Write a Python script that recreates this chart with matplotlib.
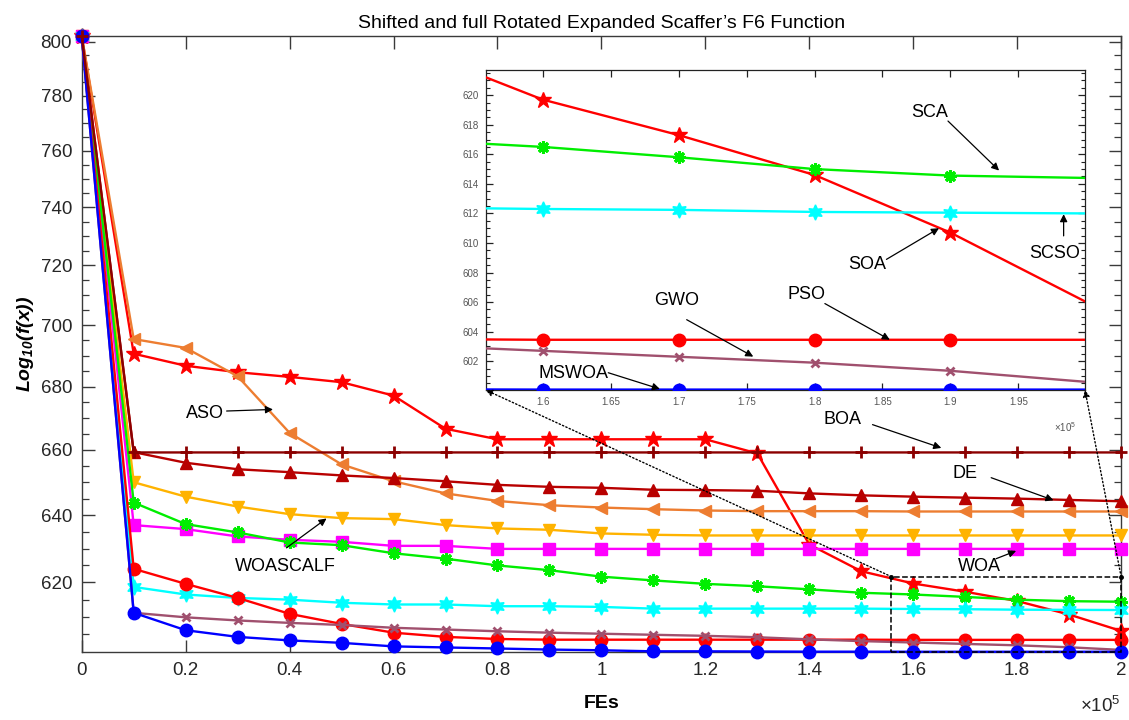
import numpy as np
import matplotlib
matplotlib.use("Agg")
import matplotlib.pyplot as plt  # noqa: E402
from matplotlib.patches import Rectangle, ConnectionPatch  # noqa: E402
from matplotlib.ticker import FixedLocator, FuncFormatter, NullFormatter  # noqa: E402

plt.rcParams["font.family"] = ["Liberation Sans", "DejaVu Sans"]
plt.rcParams["mathtext.fontset"] = "custom"
plt.rcParams["mathtext.rm"] = "Liberation Sans"
plt.rcParams["mathtext.it"] = "Liberation Sans:italic"
plt.rcParams["mathtext.bf"] = "Liberation Sans:bold"
plt.rcParams["mathtext.bfit"] = "Liberation Sans:italic:bold"

# ---- data ----
FES = [0, 10000, 20000, 30000, 40000, 50000, 60000, 70000, 80000, 90000, 100000,
       110000, 120000, 130000, 140000, 150000, 160000, 170000, 180000, 190000, 200000]

SOA = [802.2, 690.6, 686.7, 684.6, 683.1, 681.4, 677.1, 666.6, 663.3, 663.3, 663.3,
       663.3, 663.3, 658.9, 631.2, 623.3, 619.7, 617.3, 614.6, 610.7, 606.0]
ASO = [802.2, 695.4, 692.5, 683.3, 665.3, 655.5, 650.3, 646.6, 644.3, 643.0, 642.3,
       641.8, 641.4, 641.2, 641.2, 641.2, 641.1, 641.1, 641.1, 641.1, 641.1]
BOA = [802.2, 659.2, 659.2, 659.2, 659.2, 659.2, 659.2, 659.2, 659.2, 659.2, 659.2,
       659.2, 659.2, 659.2, 659.2, 659.2, 659.2, 659.2, 659.2, 659.2, 659.2]
DE = [802.2, 659.3, 656.0, 654.0, 653.1, 652.1, 651.3, 650.3, 649.2, 648.6, 648.3,
      647.7, 647.6, 647.4, 646.6, 646.0, 645.6, 645.3, 645.0, 644.6, 644.2]
WOASCALF = [802.2, 650.0, 645.6, 642.6, 640.3, 639.1, 638.8, 637.0, 636.0, 635.6, 634.5,
            634.1, 633.9, 633.9, 633.9, 633.9, 633.9, 633.9, 633.9, 633.9, 633.9]
WOA = [802.2, 637.0, 635.8, 633.6, 632.6, 632.0, 630.8, 630.8, 629.9, 629.9, 629.9,
       629.9, 629.9, 629.9, 629.9, 629.9, 629.9, 629.9, 629.9, 629.9, 629.9]
SCA = [802.2, 643.8, 637.3, 634.8, 631.8, 631.0, 628.6, 627.0, 625.0, 623.6, 621.7,
       620.6, 619.6, 618.9, 618.0, 617.0, 616.5, 615.8, 615.0, 614.56, 614.4]
SCSO = [802.2, 618.7, 616.5, 615.5, 615.0, 614.1, 613.6, 613.6, 613.1, 613.1, 612.9,
        612.4, 612.4, 612.4, 612.4, 612.4, 612.3, 612.24, 612.1, 612.05, 612.0]
PSO = [802.2, 624.0, 619.6, 615.5, 610.9, 608.0, 605.5, 604.3, 603.7, 603.5, 603.5,
       603.5, 603.5, 603.5, 603.5, 603.5, 603.45, 603.45, 603.45, 603.45, 603.45]
GWO = [802.2, 611.2, 609.9, 609.0, 608.3, 607.7, 606.9, 606.4, 605.9, 605.5, 605.2,
       604.9, 604.6, 604.2, 603.6, 603.1, 602.7, 602.3, 601.9, 601.35, 600.6]
MSWOA = [802.2, 611.2, 606.2, 604.3, 603.3, 602.6, 601.6, 601.3, 601.0, 600.7, 600.5,
         600.2, 600.2, 600.15, 600.1, 600.1, 600.08, 600.08, 600.08, 600.08, 600.08]

# name, values, colour, marker, size, edge width, zorder
SERIES = [
    ("SOA", SOA, "#ff0000", "*", 12, 1.0, 3),
    ("ASO", ASO, "#ed7d31", "<", 9, 1.0, 3),
    ("DE", DE, "#b80000", "^", 9, 1.0, 3),
    ("WOASCALF", WOASCALF, "#ffb300", "v", 9, 1.0, 3),
    ("WOA", WOA, "#ff00ff", "s", 8, 1.0, 3),
    ("SCA", SCA, "#00ee00", (8, 2, 0), 9, 2.2, 3),
    ("SCSO", SCSO, "#00ffff", (6, 1, 0), 11, 1.0, 3),
    ("PSO", PSO, "#ff0000", "o", 9, 1.0, 3),
    ("GWO", GWO, "#a0506e", "x", 6, 2.0, 3),
    ("MSWOA", MSWOA, "#0000ff", "o", 9, 1.0, 4),
    ("BOA", BOA, "#8b0000", "+", 9, 2.0, 5),
]

# zoomed window (x in FEs, y in objective value)
ZOOM_X = (155800, 199900)
ZOOM_Y = (600.05, 621.7)

# annotations: label, text centre, arrow tail, arrow head
NOTES_MAIN = [
    ("ASO", (23700, 671.4), (27880, 672.2), (36800, 672.7)),
    ("WOASCALF", (39100, 624.7), (39400, 630.2), (47100, 639.0)),
    ("BOA", (146400, 669.5), (152170, 667.9), (165400, 660.6)),
    ("DE", (169900, 652.7), (175000, 651.4), (187000, 644.5)),
    ("WOA", (172800, 624.7), (175960, 627.0), (179800, 629.3)),
]
NOTES_INSET = [
    ("SCA", (188480, 618.84), (189820, 618.25), (193580, 614.9)),
    ("SOA", (183850, 608.57), (185290, 608.89), (189160, 611.0)),
    ("SCSO", (197670, 609.3), (198330, 610.48), (198330, 611.95)),
    ("PSO", (179430, 606.53), (180760, 605.9), (185540, 603.45)),
    ("GWO", (169880, 606.12), (170590, 604.81), (175490, 602.31)),
    ("MSWOA", (162230, 601.16), (164820, 601.22), (168620, 600.12)),
]

AX_COLOR = "#3a3a3a"


def note(ax, label, txt, tail, head, size):
    ax.text(*txt, label, ha="center", va="center", fontsize=size, color="black",
            zorder=8)
    ax.annotate("", xy=head, xytext=tail,
                arrowprops=dict(arrowstyle="-|>", color="black", lw=0.9,
                                mutation_scale=11, shrinkA=0, shrinkB=0),
                zorder=8)


fig = plt.figure(figsize=(11.29, 7.2), dpi=100)
ax = fig.add_axes([0.0724, 0.0944, 0.9206, 0.8556])

for name, vals, col, mk, ms, mew, zo in SERIES:
    ax.plot(FES, vals, color=col, lw=1.7, marker=mk, ms=ms, mfc=col, mec=col,
            mew=mew, zorder=zo, clip_on=False)

ax.set_yscale("log")
ax.set_xlim(0, 200000)
ax.set_ylim(600.0, 802.2)
ax.yaxis.set_major_locator(FixedLocator(np.arange(620, 801, 20)))
ax.yaxis.set_minor_locator(FixedLocator(np.arange(605, 801, 5)))
ax.yaxis.set_major_formatter(FuncFormatter(lambda v, _: f"{v:.0f}"))
ax.yaxis.set_minor_formatter(NullFormatter())
ax.xaxis.set_major_locator(FixedLocator(np.arange(0, 200001, 20000)))
ax.xaxis.set_major_formatter(FuncFormatter(lambda v, _: f"{v / 1e5:g}"))
ax.tick_params(which="both", direction="in", top=True, right=True,
               colors=AX_COLOR, labelcolor="#262626", labelsize=13.5)
ax.tick_params(which="major", length=9, width=1.0, pad=7)
ax.tick_params(which="minor", length=5, width=0.9)
for s in ax.spines.values():
    s.set_color(AX_COLOR)
    s.set_linewidth(1.0)

ax.set_title("Shifted and full Rotated Expanded Scaffer\u2019s F6 Function",
             fontsize=14, pad=6)
ax.set_xlabel("FEs", fontsize=14, fontweight="bold", labelpad=12)
ax.set_ylabel(r"$\mathbfit{Log_{10}(f(x))}$", fontsize=14, labelpad=3)
ax.text(1.0, -0.088, r"$\times10^{5}$", transform=ax.transAxes, ha="right",
        va="center", fontsize=13.5, color="#262626")

for label, txt, tail, head in NOTES_MAIN:
    note(ax, label, txt, tail, head, 13)

# dashed zoom box
ax.add_patch(Rectangle((ZOOM_X[0], ZOOM_Y[0] - 0.1), 200000 - ZOOM_X[0],
                       ZOOM_Y[1] - ZOOM_Y[0] + 0.1, fill=False, ls="--",
                       lw=1.1, ec="black", zorder=7, clip_on=False))
ax.plot([ZOOM_X[0], 200000], [ZOOM_Y[1], ZOOM_Y[1]], "k.", ms=5, zorder=8,
        clip_on=False)

# inset (markers only where their centre lies inside the window)
axin = fig.add_axes([0.4302, 0.4583, 0.5308, 0.4444])
for name, vals, col, mk, ms, mew, zo in SERIES:
    axin.plot(FES, vals, color=col, lw=1.7, marker=mk, ms=ms, mfc=col, mec=col,
              mew=mew, zorder=zo, markevery=slice(0, len(FES) - 1))
axin.set_xlim(*ZOOM_X)
axin.set_ylim(*ZOOM_Y)
axin.xaxis.set_major_locator(FixedLocator(np.arange(160000, 199001, 5000)))
axin.xaxis.set_major_formatter(FuncFormatter(lambda v, _: f"{v / 1e5:g}"))
axin.yaxis.set_major_locator(FixedLocator(np.arange(602, 621, 2)))
axin.yaxis.set_minor_locator(FixedLocator(np.arange(600.5, 621.6, 0.5)))
axin.yaxis.set_major_formatter(FuncFormatter(lambda v, _: f"{v:.0f}"))
axin.tick_params(which="both", direction="in", top=True, right=True,
                 colors="#222222", labelcolor="#555555", labelsize=7)
axin.tick_params(which="major", length=5, width=0.9, pad=5)
axin.tick_params(which="minor", length=3, width=0.8)
for s in axin.spines.values():
    s.set_color("#222222")
    s.set_linewidth(0.9)
axin.text(0.985, -0.095, r"$\times10^{5}$", transform=axin.transAxes, ha="right",
          va="top", fontsize=7, color="#555555")

for label, txt, tail, head in NOTES_INSET:
    note(axin, label, txt, tail, head, 13)

# dotted connectors from zoom box to the inset corners
for xa, corner in ((ZOOM_X[0], (0, 0)), (200000, (1, 0))):
    con = ConnectionPatch(xyA=(xa, ZOOM_Y[1]), coordsA=ax.transData,
                          xyB=corner, coordsB=axin.transAxes,
                          arrowstyle="-|>", ls=":", lw=1.0, color="black",
                          mutation_scale=10, shrinkA=0, shrinkB=0, zorder=9)
    fig.add_artist(con)

fig.savefig("out.png", dpi=100)
